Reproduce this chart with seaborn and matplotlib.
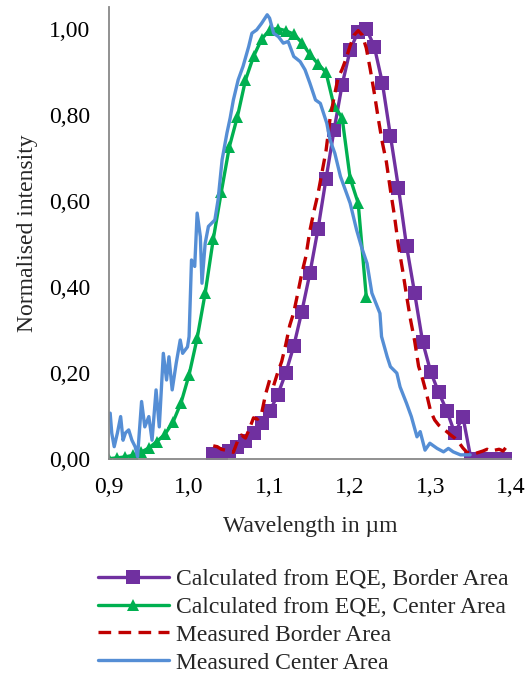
import numpy as np
import pandas as pd
import matplotlib
matplotlib.use("Agg")
import matplotlib.pyplot as plt
import seaborn as sns

# ---------------- data ----------------
border_calc_x = [1.03, 1.04, 1.05, 1.06, 1.07, 1.08, 1.09, 1.10, 1.11, 1.12, 1.13, 1.14,
                 1.15, 1.16, 1.17, 1.18, 1.19, 1.20, 1.21, 1.22, 1.23, 1.24, 1.25, 1.26,
                 1.27, 1.28, 1.29, 1.30, 1.31, 1.32, 1.33, 1.34, 1.35, 1.36, 1.37, 1.38,
                 1.39, 1.40]
border_calc_y = [0.010, 0.012, 0.017, 0.028, 0.042, 0.060, 0.082, 0.110, 0.148, 0.199, 0.262, 0.342,
                 0.431, 0.533, 0.650, 0.764, 0.869, 0.950, 0.993, 1.000, 0.958, 0.874, 0.751, 0.630,
                 0.495, 0.386, 0.272, 0.202, 0.154, 0.112, 0.059, 0.098, 0.000, 0.000, 0.000, 0.000,
                 0.000, 0.000]

center_calc_x = [0.90, 0.91, 0.92, 0.93, 0.94, 0.95, 0.96, 0.97, 0.98, 0.99, 1.00, 1.01,
                 1.02, 1.03, 1.04, 1.05, 1.06, 1.07, 1.08, 1.09, 1.10, 1.11, 1.12, 1.13,
                 1.14, 1.15, 1.16, 1.17, 1.18, 1.19, 1.20, 1.21, 1.22]
center_calc_y = [0.000, 0.002, 0.004, 0.008, 0.015, 0.025, 0.040, 0.057, 0.085, 0.130, 0.195, 0.280,
                 0.385, 0.510, 0.620, 0.725, 0.795, 0.880, 0.935, 0.975, 0.997, 1.000, 0.995, 0.987,
                 0.967, 0.940, 0.918, 0.898, 0.820, 0.793, 0.652, 0.594, 0.377]

border_meas_x = [1.030, 1.035, 1.040, 1.045, 1.050, 1.055, 1.060, 1.065, 1.070, 1.075, 1.080, 1.085,
                 1.090, 1.095, 1.100, 1.105, 1.110, 1.115, 1.120, 1.125, 1.130, 1.135, 1.140, 1.145,
                 1.150, 1.155, 1.160, 1.165, 1.170, 1.175, 1.180, 1.185, 1.190, 1.195, 1.200, 1.205,
                 1.210, 1.215, 1.220, 1.225, 1.230, 1.235, 1.240, 1.245, 1.250, 1.255, 1.260, 1.265,
                 1.270, 1.275, 1.280, 1.285, 1.290, 1.295, 1.300, 1.305, 1.310, 1.315, 1.320, 1.325,
                 1.330, 1.335, 1.340, 1.345, 1.350, 1.355, 1.360, 1.365, 1.370, 1.375, 1.380, 1.385,
                 1.390, 1.395, 1.400]
border_meas_y = [0.030, 0.028, 0.022, 0.020, 0.018, 0.015, 0.040, 0.055, 0.048, 0.070, 0.095, 0.092,
                 0.105, 0.150, 0.183, 0.170, 0.200, 0.226, 0.265, 0.310, 0.340, 0.385, 0.431, 0.470,
                 0.530, 0.575, 0.615, 0.665, 0.715, 0.790, 0.840, 0.885, 0.905, 0.930, 0.960, 0.985,
                 0.995, 0.985, 0.955, 0.905, 0.850, 0.790, 0.735, 0.690, 0.625, 0.565, 0.495, 0.440,
                 0.380, 0.323, 0.275, 0.215, 0.185, 0.150, 0.110, 0.090, 0.078, 0.070, 0.063, 0.055,
                 0.048, 0.038, 0.025, 0.015, 0.012, 0.012, 0.015, 0.018, 0.022, 0.018, 0.020, 0.022,
                 0.018, 0.030, 0.035]

center_meas_x = [0.902, 0.904, 0.907, 0.911, 0.915, 0.918, 0.921, 0.925, 0.929, 0.933, 0.936, 0.941,
                 0.945, 0.950, 0.954, 0.959, 0.963, 0.968, 0.972, 0.975, 0.979, 0.984, 0.989, 0.992,
                 0.998, 1.000, 1.003, 1.007, 1.010, 1.014, 1.016, 1.020, 1.024, 1.032, 1.036, 1.041,
                 1.047, 1.051, 1.055, 1.061, 1.067, 1.074, 1.078, 1.084, 1.090, 1.097, 1.100, 1.105,
                 1.111, 1.117, 1.123, 1.130, 1.138, 1.144, 1.150, 1.157, 1.163, 1.171, 1.175, 1.181,
                 1.188, 1.194, 1.200, 1.208, 1.214, 1.221, 1.227, 1.237, 1.239, 1.246, 1.250, 1.258,
                 1.262, 1.270, 1.276, 1.283, 1.287, 1.293, 1.299, 1.308, 1.316, 1.322, 1.328, 1.337,
                 1.349]
center_meas_y = [0.106, 0.059, 0.028, 0.060, 0.098, 0.043, 0.060, 0.067, 0.043, 0.028, 0.005, 0.133,
                 0.074, 0.098, 0.043, 0.160, 0.074, 0.245, 0.183, 0.237, 0.160, 0.222, 0.276, 0.245,
                 0.260, 0.284, 0.462, 0.447, 0.571, 0.516, 0.408, 0.501, 0.540, 0.555, 0.602, 0.695,
                 0.757, 0.792, 0.834, 0.881, 0.912, 0.958, 0.989, 0.997, 1.012, 1.032, 1.024, 0.989,
                 0.981, 0.966, 0.970, 0.935, 0.923, 0.904, 0.873, 0.834, 0.826, 0.780, 0.741, 0.710,
                 0.656, 0.625, 0.594, 0.532, 0.493, 0.454, 0.385, 0.338, 0.284, 0.237, 0.214, 0.199,
                 0.167, 0.129, 0.098, 0.051, 0.063, 0.020, 0.036, 0.024, 0.016, 0.024, 0.016, 0.009,
                 0.009]

labels = ["Calculated from EQE, Border Area", "Calculated from EQE, Center Area",
          "Measured Border Area", "Measured Center Area"]
x_ticks = [0.9, 1.0, 1.1, 1.2, 1.3, 1.4]
y_ticks = [0.0, 0.2, 0.4, 0.6, 0.8, 1.0]

# ---------------- style ----------------
sns.set_style("white")
plt.rcParams["font.family"] = ["Liberation Serif", "DejaVu Serif"]

PURPLE = "#7030A0"
GREEN = "#00B050"
RED = "#C00000"
BLUE = "#558ED5"
GRAY = "#888888"
FS = 17

fig = plt.figure(figsize=(5.27, 6.75), dpi=100)
ax = fig.add_axes([0.206, 0.3204, 0.764, 0.6692])

sns.lineplot(x=border_calc_x, y=border_calc_y, ax=ax, color=PURPLE, lw=2.4,
             marker="s", markersize=9.5, markeredgewidth=0, label=labels[0],
             estimator=None, sort=False)
sns.lineplot(x=center_calc_x, y=center_calc_y, ax=ax, color=GREEN, lw=2.4,
             marker="^", markersize=9, markeredgewidth=0, label=labels[1],
             estimator=None, sort=False)
sns.lineplot(x=border_meas_x, y=border_meas_y, ax=ax, color=RED, lw=2.4,
             linestyle=(0, (3.8, 2.2)), label=labels[2], estimator=None, sort=False)
sns.lineplot(x=center_meas_x, y=center_meas_y, ax=ax, color=BLUE, lw=2.4,
             label=labels[3], estimator=None, sort=False)

ax.set_xlim(0.9, 1.4)
ax.set_ylim(0.0, 1.05)
ax.set_xticks(x_ticks)
ax.set_yticks(y_ticks)
ax.set_xticklabels([f"{v:.1f}".replace(".", ",") for v in x_ticks])
ax.set_yticklabels([f"{v:.2f}".replace(".", ",") for v in y_ticks])

for s in ["top", "right"]:
    ax.spines[s].set_visible(False)
for s in ["left", "bottom"]:
    ax.spines[s].set_color(GRAY)
    ax.spines[s].set_linewidth(1.3)
ax.tick_params(axis="both", direction="out", length=5, width=1.3, color=GRAY,
               labelsize=FS, labelcolor="black")
ax.tick_params(axis="x", pad=8)
ax.tick_params(axis="y", pad=8)

ax.set_xlabel("Wavelength in µm", fontsize=FS, labelpad=13)
ax.set_ylabel("Normalised intensity", fontsize=FS, labelpad=8)

handles, labs = ax.get_legend_handles_labels()
ax.get_legend().remove()
fig.legend(handles, labs, loc="upper left", bbox_to_anchor=(0.186, 0.158),
           frameon=False, fontsize=FS, handlelength=3.0, handletextpad=0.3,
           labelspacing=0.27, borderpad=0, borderaxespad=0)

fig.savefig("out.png", dpi=100)
